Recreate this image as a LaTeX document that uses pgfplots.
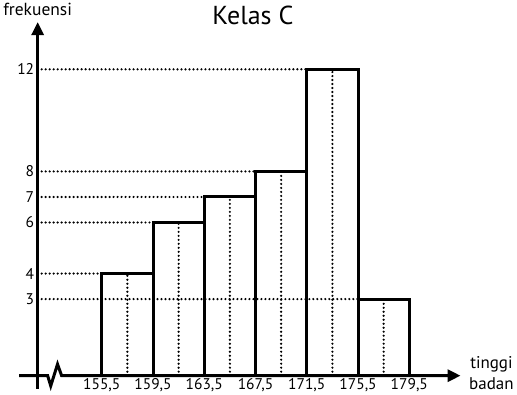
\documentclass[border=0pt]{standalone}
\usepackage{pgfplots}
\pgfplotsset{compat=1.18}
\usepackage{fontspec}
\setmainfont{PT Sans}
\usetikzlibrary{arrows.meta}
\begin{document}
\begin{tikzpicture}
\begin{axis}[
  x=12.83pt, y=25.56pt,
  xmin=150.5, xmax=183.5, ymin=0, ymax=13.8,
  clip=false,
  axis line style={draw=none},
  major tick length=0pt,
  xtick={155.5,159.5,163.5,167.5,171.5,175.5,179.5},
  xticklabels={{155,5},{159,5},{163,5},{167,5},{171,5},{175,5},{179,5}},
  ytick={3,4,6,7,8,12},
  yticklabels={3,4,6,7,8,12},
  xticklabel style={font=\fontsize{15.5}{17}\selectfont, yshift=1pt},
  yticklabel style={font=\fontsize{15.5}{17}\selectfont, xshift=0pt},
]
% bars
\addplot[ybar interval, fill=white, draw=black, line width=3pt]
  coordinates {(155.5,4)(159.5,6)(163.5,7)(167.5,8)(171.5,12)(175.5,3)(179.5,3)};
% horizontal dotted guide lines
\pgfplotsset{dotline/.style={line width=2.4pt, line cap=round, dash pattern=on 0pt off 4pt}}
\addplot[dotline] coordinates {(150.5,3)(175.5,3)};
\addplot[dotline] coordinates {(150.5,4)(155.5,4)};
\addplot[dotline] coordinates {(150.5,6)(159.5,6)};
\addplot[dotline] coordinates {(150.5,7)(163.5,7)};
\addplot[dotline] coordinates {(150.5,8)(167.5,8)};
\addplot[dotline] coordinates {(150.5,12)(171.5,12)};
% vertical dotted lines at class midpoints
\addplot[dotline, ycomb, mark=none] coordinates {(157.5,3.95)(161.5,5.95)(165.5,6.95)(169.5,7.95)(173.5,11.95)(177.5,2.95)};
% axes
\draw[line width=3pt, -{Triangle[length=13pt,width=12pt]}] (axis cs:150.5,-0.52) -- (axis cs:150.5,13.85);
\draw[line width=3pt, line join=miter, -{Triangle[length=13pt,width=12pt]}] (axis cs:149.05,0) -- (axis cs:151.28,0) -- (axis cs:151.52,-0.4) -- (axis cs:152.05,0.45) -- (axis cs:152.37,0) -- (axis cs:183.5,0);
% labels
\node[font=\fontsize{17.5}{20}\selectfont, anchor=base] at (axis cs:150.5,14.1) {frekuensi};
\node[font=\fontsize{17}{21}\selectfont, align=center, anchor=west] at (axis cs:183.9,0.1) {tinggi\\badan};
\node[font=\fontsize{26}{29}\selectfont, anchor=base] at (axis cs:167.3,13.75) {Kelas C};
\end{axis}
\end{tikzpicture}
\end{document}
